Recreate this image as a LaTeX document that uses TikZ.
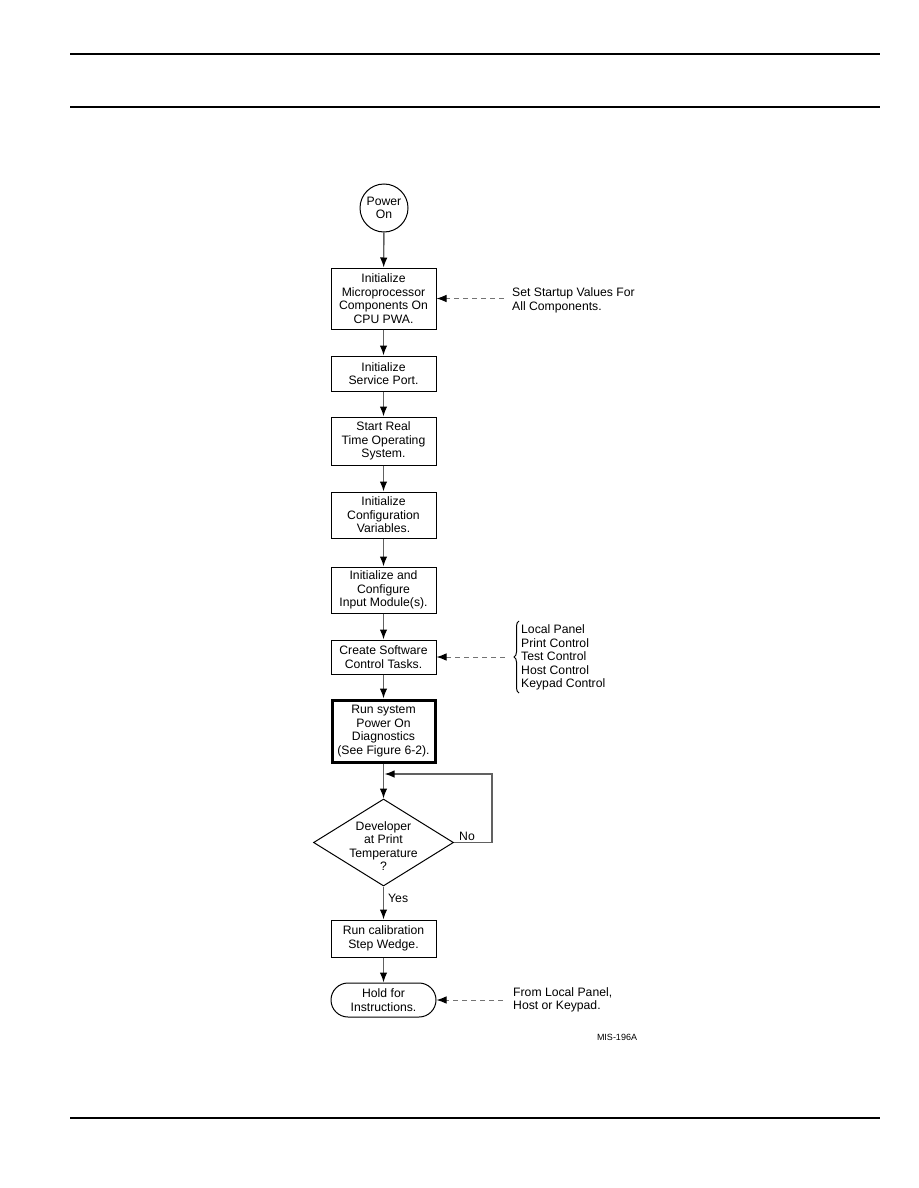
\documentclass[tikz,border=0pt]{standalone}
\usepackage{fontspec}
\setmainfont{Liberation Sans}
\usetikzlibrary{arrows.meta,shapes.geometric,decorations.pathreplacing}
\tikzset{
  txt/.style={font=\fontsize{12.2}{13.5}\selectfont},
  stepbox/.style={draw=black,line width=1pt,minimum width=105pt,align=center,inner sep=1pt,txt},
  flow/.style={draw=black!62,line width=1.4pt,-{Latex[length=10pt,width=7.5pt,color=black]}},
  dflow/.style={draw=black!55,line width=1pt,dash pattern=on 5pt off 4pt,-{Latex[length=10pt,width=7.5pt,color=black]}},
  sidetext/.style={anchor=west,align=left,inner sep=0pt,txt},
  rule/.style={line width=2.4pt,black}
}
\begin{document}
\begin{tikzpicture}[x=1pt,y=-1pt]
\useasboundingbox (0,0) rectangle (918,1188);
\draw[rule] (70,54) -- (880,54);
\draw[rule] (70,107) -- (880,107);
\draw[rule] (70,1118) -- (880,1118);

\node[stepbox,circle,minimum width=48pt,inner sep=0pt] (pwr) at (384,208) {Power\\On};
\node[stepbox,minimum height=61pt] (b1) at (383.5,298.5) {Initialize\\Microprocessor\\Components On\\CPU PWA.};
\node[stepbox,minimum height=35pt] (b2) at (383.5,373.5) {Initialize\\Service Port.};
\node[stepbox,minimum height=48pt] (b3) at (383.5,441) {Start Real\\Time Operating\\System.};
\node[stepbox,minimum height=46pt] (b4) at (383.5,515) {Initialize\\Configuration\\Variables.};
\node[stepbox,minimum height=46pt] (b5) at (383.5,590) {Initialize and\\Configure\\Input Module(s).};
\node[stepbox,minimum height=34pt] (b6) at (383.5,657) {Create Software\\Control Tasks.};
\node[stepbox,line width=3pt,minimum height=62pt,minimum width=103pt] (b7) at (383.5,731) {Run system\\Power On\\Diagnostics\\(See Figure 6-2).};
\node[draw=black,line width=1pt,diamond,minimum width=140pt,minimum height=87pt,inner sep=0pt] (dec) at (383.5,842.5) {};
\node[align=center,inner sep=0pt,txt] (dectext) at (383.5,846) {Developer\\at Print\\Temperature\\?};
\node[stepbox,minimum height=37pt] (b8) at (383.5,938.5) {Run calibration\\Step Wedge.};
\node[stepbox,rounded corners=17pt,minimum height=34pt] (hold) at (383.5,1000) {Hold for\\Instructions.};

\draw[flow] (pwr) -- (b1);
\draw[flow] (b1) -- (b2);
\draw[flow] (b2) -- (b3);
\draw[flow] (b3) -- (b4);
\draw[flow] (b4) -- (b5);
\draw[flow] (b5) -- (b6);
\draw[flow] (b6) -- (b7);
\draw[flow] (b7) -- (dec.north);
\draw[flow] (dec.south) -- (b8);
\draw[flow] (b8) -- (hold);

\coordinate (j) at (384.5,774);
\draw[flow] (dec.east) -- (492,842.5) -- (492,774) -- (j);
\node[sidetext] (no) at (459,836) {No};
\node[sidetext] (yes) at (388,898) {Yes};

\node[sidetext] (t1) at (512,300.5) {Set Startup Values For\\All Components.};
\coordinate (d1) at (504,298.5);
\draw[dflow] (d1) -- (b1.east);

\node[sidetext] (t2) at (521,657.5) {Local Panel\\Print Control\\Test Control\\Host Control\\Keypad Control};
\draw[line width=1pt,decorate,decoration={brace,amplitude=5pt}] (519,693) -- (519,621);
\coordinate (d2) at (505,657);
\draw[dflow] (d2) -- (b6.east);

\node[sidetext] (t3) at (513,1000) {From Local Panel,\\Host or Keypad.};
\coordinate (d3) at (503,1000);
\draw[dflow] (d3) -- (hold.east);

\node[anchor=center,inner sep=0pt,font=\fontsize{9}{10}\selectfont] (mis) at (617,1037) {MIS-196A};
\end{tikzpicture}
\end{document}
